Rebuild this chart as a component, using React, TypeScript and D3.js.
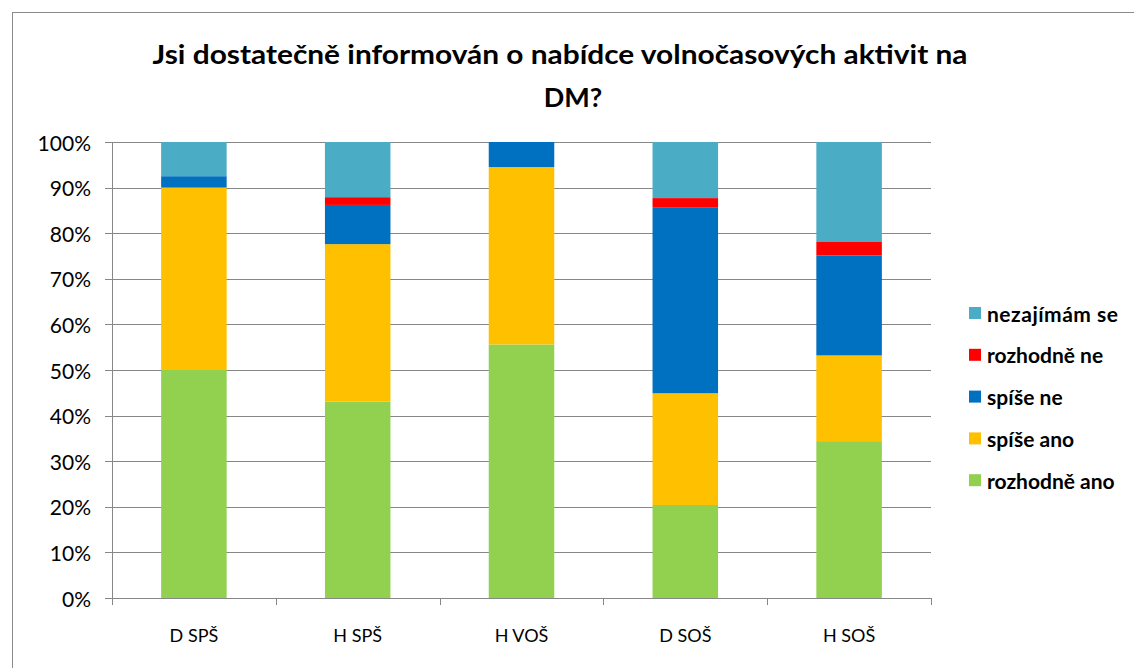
import React from "react";
import * as d3 from "d3";

const categories = ["D SPŠ", "H SPŠ", "H VOŠ", "D SOŠ", "H SOŠ"];
const seriesNames = ["rozhodně ano", "spíše ano", "spíše ne", "rozhodně ne", "nezajímám se"];
const rozhodneAno = [50, 43.1, 55.6, 20.4, 34.4];
const spiseAno = [40, 34.5, 38.9, 24.5, 18.8];
const spiseNe = [2.5, 8.6, 5.5, 40.8, 21.9];
const rozhodneNe = [0, 1.7, 0, 2.0, 3.1];
const nezajimam = [7.5, 12.1, 0, 12.3, 21.8];
const seriesColors = ["#92D050", "#FFC000", "#0070C0", "#FF0000", "#4BACC6"];
const yTicks = [0, 10, 20, 30, 40, 50, 60, 70, 80, 90, 100];
const title1 = "Jsi dostatečně informován o nabídce volnočasových aktivit na";
const title2 = "DM?";

const W = 1134;
const H = 668;
const FONT = "Lato, 'Open Sans', sans-serif";

export default function App() {
  const left = 112, right = 931, top = 142, bottom = 598;
  const x = d3.scaleBand<string>().domain(categories).range([left, right]).paddingInner(0.6).paddingOuter(0.3);
  const band = d3.scaleBand<string>().domain(categories).range([left, right]);
  const y = d3.scaleLinear().domain([0, 100]).range([bottom, top]);

  const rows = categories.map((c, i) => ({
    cat: c,
    "rozhodně ano": rozhodneAno[i],
    "spíše ano": spiseAno[i],
    "spíše ne": spiseNe[i],
    "rozhodně ne": rozhodneNe[i],
    "nezajímám se": nezajimam[i],
  }));
  const stacked = d3.stack<any>().keys(seriesNames)(rows);

  const legendOrder = [...seriesNames].map((n, i) => ({ n, c: seriesColors[i] })).reverse();

  return (
    <svg width={W} height={H} style={{ position: "absolute", left: 0, top: 0, background: "#fff" }}>
      <rect x={12.5} y={12.5} width={W} height={H} fill="#fff" stroke="#8a8a8a" strokeWidth={1} />
      <text x={560} y={64} textAnchor="middle" fontFamily={FONT} fontWeight={700} fontSize={27} fill="#000" textLength={815} lengthAdjust="spacingAndGlyphs">
        {title1}
      </text>
      <text x={573} y={107} textAnchor="middle" fontFamily={FONT} fontWeight={700} fontSize={27} fill="#000">
        {title2}
      </text>
      {yTicks.map((t) => (
        <g key={t}>
          <line x1={left - 7} x2={right} y1={Math.round(y(t)) + 0.5} y2={Math.round(y(t)) + 0.5} stroke="#878787" strokeWidth={1} />
          <text x={91} y={y(t)} textAnchor="end" dominantBaseline="central" fontFamily={FONT} fontSize={21} fill="#000">
            {t}%
          </text>
        </g>
      ))}
      <line x1={left + 0.5} x2={left + 0.5} y1={top} y2={bottom + 7} stroke="#878787" strokeWidth={1} />
      {categories.map((c) => (
        <line key={c} x1={Math.round((band(c) as number) + band.bandwidth()) + 0.5} x2={Math.round((band(c) as number) + band.bandwidth()) + 0.5} y1={bottom} y2={bottom + 7} stroke="#878787" strokeWidth={1} />
      ))}
      {stacked.map((s, si) => (
        <g key={s.key} fill={seriesColors[si]}>
          {s.map((d, i) => (
            <rect key={i} x={x(categories[i])} width={x.bandwidth()} y={y(d[1])} height={Math.max(0, y(d[0]) - y(d[1]))} />
          ))}
        </g>
      ))}
      {categories.map((c) => (
        <text key={c} x={(band(c) as number) + band.bandwidth() / 2} y={642} textAnchor="middle" fontFamily={FONT} fontSize={18} fill="#000">
          {c}
        </text>
      ))}
      {legendOrder.map((l, i) => (
        <g key={l.n} transform={`translate(969, ${313 + i * 41.8})`}>
          <rect x={0} y={-6} width={12} height={12} fill={l.c} />
          <text x={18} y={0} dominantBaseline="central" fontFamily={FONT} fontWeight={700} fontSize={21} fill="#000" textLength={l.n === "nezajímám se" ? 131 : undefined}>
            {l.n}
          </text>
        </g>
      ))}
    </svg>
  );
}
